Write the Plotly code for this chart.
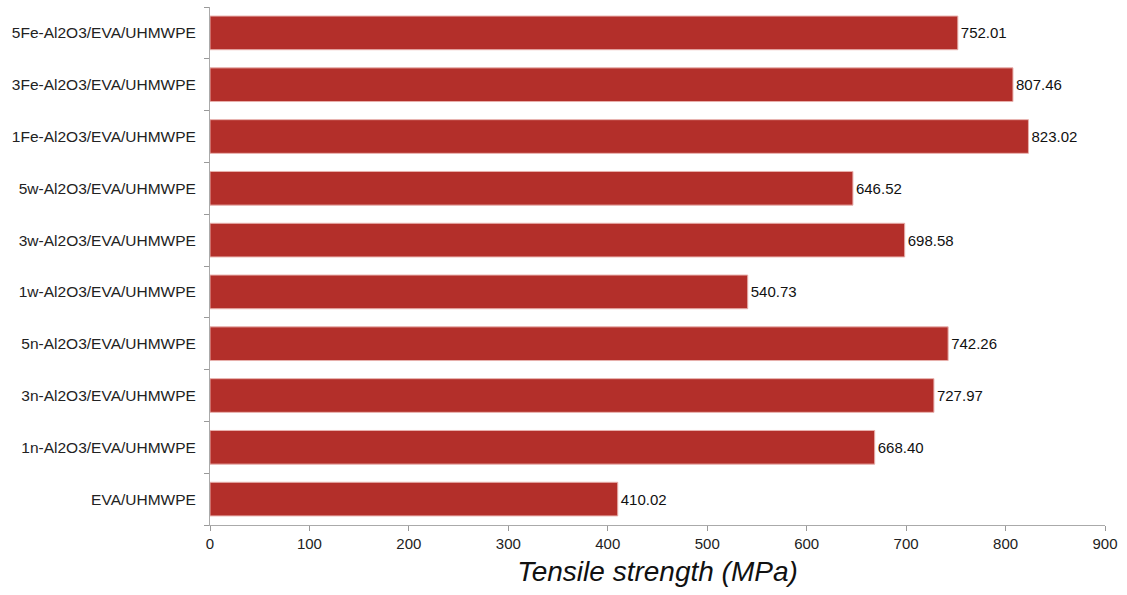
import plotly.graph_objects as go

categories = ["EVA/UHMWPE", "1n-Al2O3/EVA/UHMWPE", "3n-Al2O3/EVA/UHMWPE", "5n-Al2O3/EVA/UHMWPE",
              "1w-Al2O3/EVA/UHMWPE", "3w-Al2O3/EVA/UHMWPE", "5w-Al2O3/EVA/UHMWPE",
              "1Fe-Al2O3/EVA/UHMWPE", "3Fe-Al2O3/EVA/UHMWPE", "5Fe-Al2O3/EVA/UHMWPE"]
values = [410.02, 668.40, 727.97, 742.26, 540.73, 698.58, 646.52, 823.02, 807.46, 752.01]
x_ticks = [0, 100, 200, 300, 400, 500, 600, 700, 800, 900]

fig = go.Figure(go.Bar(
    y=categories, x=values, orientation="h",
    marker=dict(color="#B32F2A", line=dict(color="#E8B0AC", width=1)),
    text=[f"{v:.2f}" for v in values], textposition="outside",
    textfont=dict(family="Liberation Sans, Arial", size=15, color="#111111"),
    cliponaxis=False,
))

fig.update_layout(
    width=1127, height=595,
    margin=dict(l=210, r=22, t=7, b=70, autoexpand=False),
    paper_bgcolor="white", plot_bgcolor="white",
    bargap=0.35, showlegend=False,
    font=dict(family="Liberation Sans, Arial", size=15, color="#222222"),
    xaxis=dict(range=[0, 900], tickvals=x_ticks, ticks="outside", ticklen=5,
               tickcolor="#999999", showline=True, linecolor="#AAAAAA", linewidth=1,
               showgrid=False, zeroline=False, automargin=False,
               title=dict(text="<i>Tensile strength (MPa)</i>",
                          font=dict(size=28, family="Liberation Sans, Arial", color="#111111"),
                          standoff=10)),
    yaxis=dict(type="category", categoryorder="array", categoryarray=categories,
               tickson="boundaries", ticks="outside", ticklen=5, tickcolor="#999999",
               showline=True, linecolor="#AAAAAA", linewidth=1, showgrid=False,
               automargin=False, ticklabelstandoff=10, range=[-0.5, 9.5],
               tickfont=dict(size=15.5)),
)

fig.write_html("out.html", config={"displayModeBar": False},
               post_script="document.body.style.margin='0';")
